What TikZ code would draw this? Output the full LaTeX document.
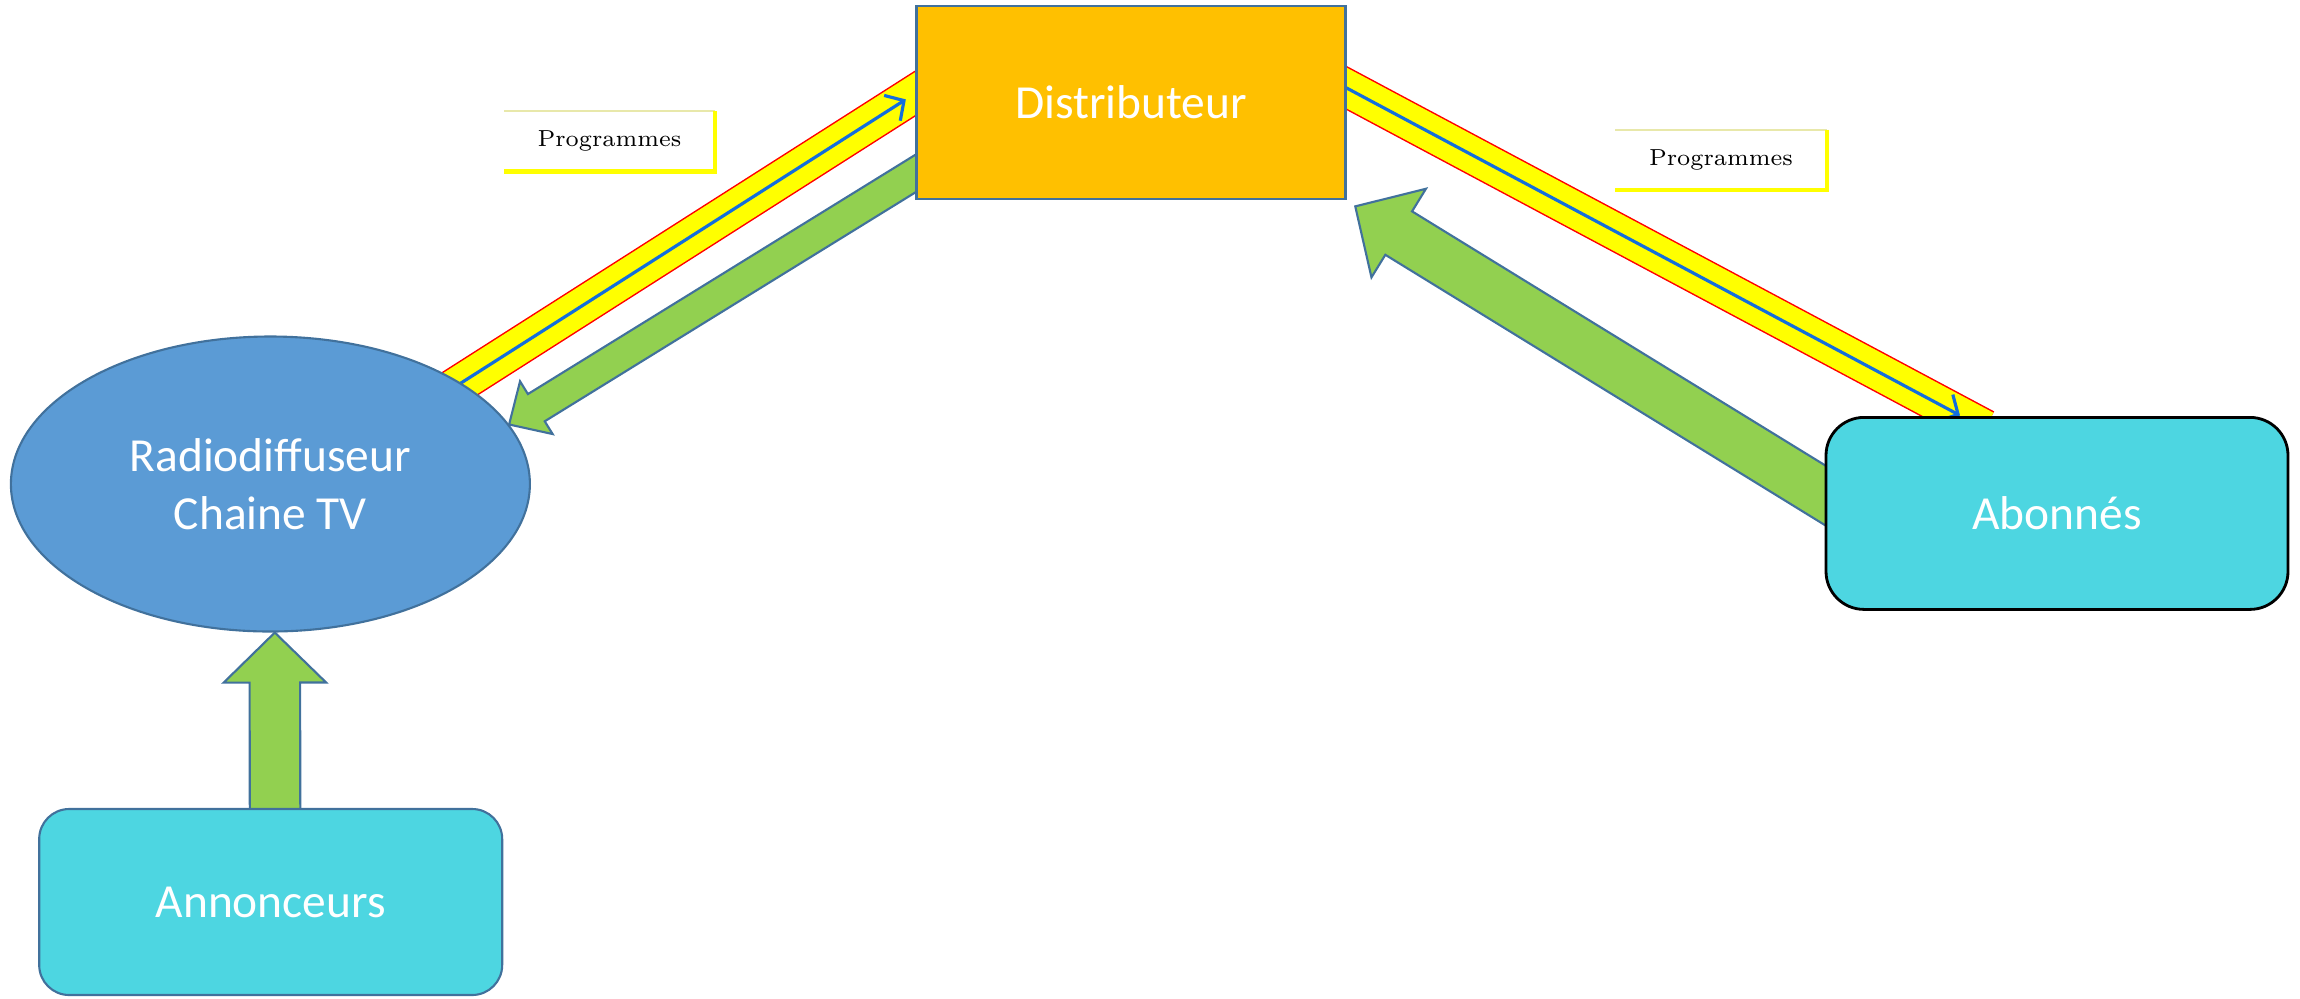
\documentclass[tikz,border=0pt]{standalone}
\usepackage{fontspec}
\newfontfamily\calibri{Carlito}
\usepackage{tikz}
\usetikzlibrary{calc}
\usetikzlibrary{arrows.meta}
\usetikzlibrary{backgrounds}
\usetikzlibrary{shapes.geometric}
\definecolor{bordure}{RGB}{65,113,156}
\definecolor{ocre}{RGB}{255,192,0}
\definecolor{bleuovale}{RGB}{91,155,213}
\definecolor{turquoise}{RGB}{77,214,225}
\definecolor{vert}{RGB}{146,208,80}
\definecolor{jaune}{RGB}{255,255,0}
\definecolor{rouge}{RGB}{255,0,0}
\definecolor{bleutrait}{RGB}{20,110,220}
\definecolor{jaunepale}{RGB}{232,232,170}
\tikzset{
	entite/.style={line width=0.6pt,text=white,font=\calibri\fontsize{13.5}{16.5}\selectfont,align=center,inner sep=0pt},
	fleche/.style={draw=bordure,fill=vert,line width=0.6pt,line join=miter},
	prog/.style={fill=white,minimum width=2.1cm,minimum height=0.59cm,inner sep=0pt,font=\fontsize{6.6}{8}\selectfont},
	ruban/.style={draw=rouge,line width=0.39cm},
	ruban fond/.style={draw=jaune,line width=0.36cm},
	flux/.style={draw=bleutrait,line width=0.9pt,-{Straight Barb[length=1.4mm,width=3mm]}}
}
\newcommand{\grossefleche}[5]{%
	\coordinate (fb) at ($(#2)!#5!(#1)$);
	\draw[fleche] ($(#1)!#3!90:(#2)$) -- ($(fb)!#3!90:(#2)$) -- ($(fb)!#4!90:(#2)$) -- (#2) -- ($(fb)!#4!-90:(#2)$) -- ($(fb)!#3!-90:(#2)$) -- ($(#1)!#3!-90:(#2)$) -- cycle;
}
\begin{document}
\begin{tikzpicture}
	\useasboundingbox (0,0) rectangle (23,-9.98);
	\node[entite,draw=bordure,fill=ocre,minimum width=4.29cm,minimum height=1.93cm] (dist) at (11.31,-1.023) {Distributeur};
	\node[entite,draw=bordure,fill=bleuovale,ellipse,minimum width=5.19cm,minimum height=2.95cm] (radio) at (2.704,-4.84) {Radiodiffuseur\\Chaine TV};
	\node[entite,draw=bordure,fill=turquoise,rounded corners=0.3cm,minimum width=4.63cm,minimum height=1.86cm] (annon) at (2.707,-9.02) {Annonceurs};
	\node[entite,draw=black,line width=0.8pt,fill=turquoise,rounded corners=0.38cm,minimum width=4.62cm,minimum height=1.92cm] (abon) at (20.57,-5.134) {Abonnés};
	\node[prog] (prog1) at (6.095,-1.413) {Programmes};
	\node[prog] (prog2) at (17.21,-1.599) {Programmes};
	\draw[jaunepale,line width=0.5pt] (prog1.north west) -- (prog1.north east);
	\draw[jaune,line width=1.2pt] (prog1.north east) -- (prog1.south east) -- (prog1.south west);
	\draw[jaunepale,line width=0.5pt] (prog2.north west) -- (prog2.north east);
	\draw[jaune,line width=1.2pt] (prog2.north east) -- (prog2.south east) -- (prog2.south west);
	\begin{scope}[on background layer]
		\coordinate (la) at ($(radio.center)+(1.602,0.816)$);
		\coordinate (lb) at ($(dist.west)+(0.2,0.217)$);
		\coordinate (ra) at ($(dist.east)+(-0.2,0.25)$);
		\coordinate (rb) at ($(abon.north)+(-0.72,-0.126)$);
		\draw[ruban] (la)--(lb) (ra)--(rb);
		\draw[ruban fond] (la)--(lb) (ra)--(rb);
		\draw[flux] (la)--($(dist.west)+(-0.096,0.029)$);
		\draw[flux] (ra)--($(abon.north)+(-0.97,0.006)$);
		\grossefleche{$(dist.west)+(0.3,-0.527)$}{radio.14}{0.16cm}{0.31cm}{0.32cm}
		\grossefleche{$(abon.west)+(0.3,0)$}{$(dist.south east)+(0.087,-0.065)$}{0.255cm}{0.52cm}{0.51cm}
		\grossefleche{$(annon.north)+(0.044,-0.3)$}{$(radio.south)+(0.044,0)$}{0.2525cm}{0.5125cm}{0.5cm}
	\end{scope}
\end{tikzpicture}
\end{document}
